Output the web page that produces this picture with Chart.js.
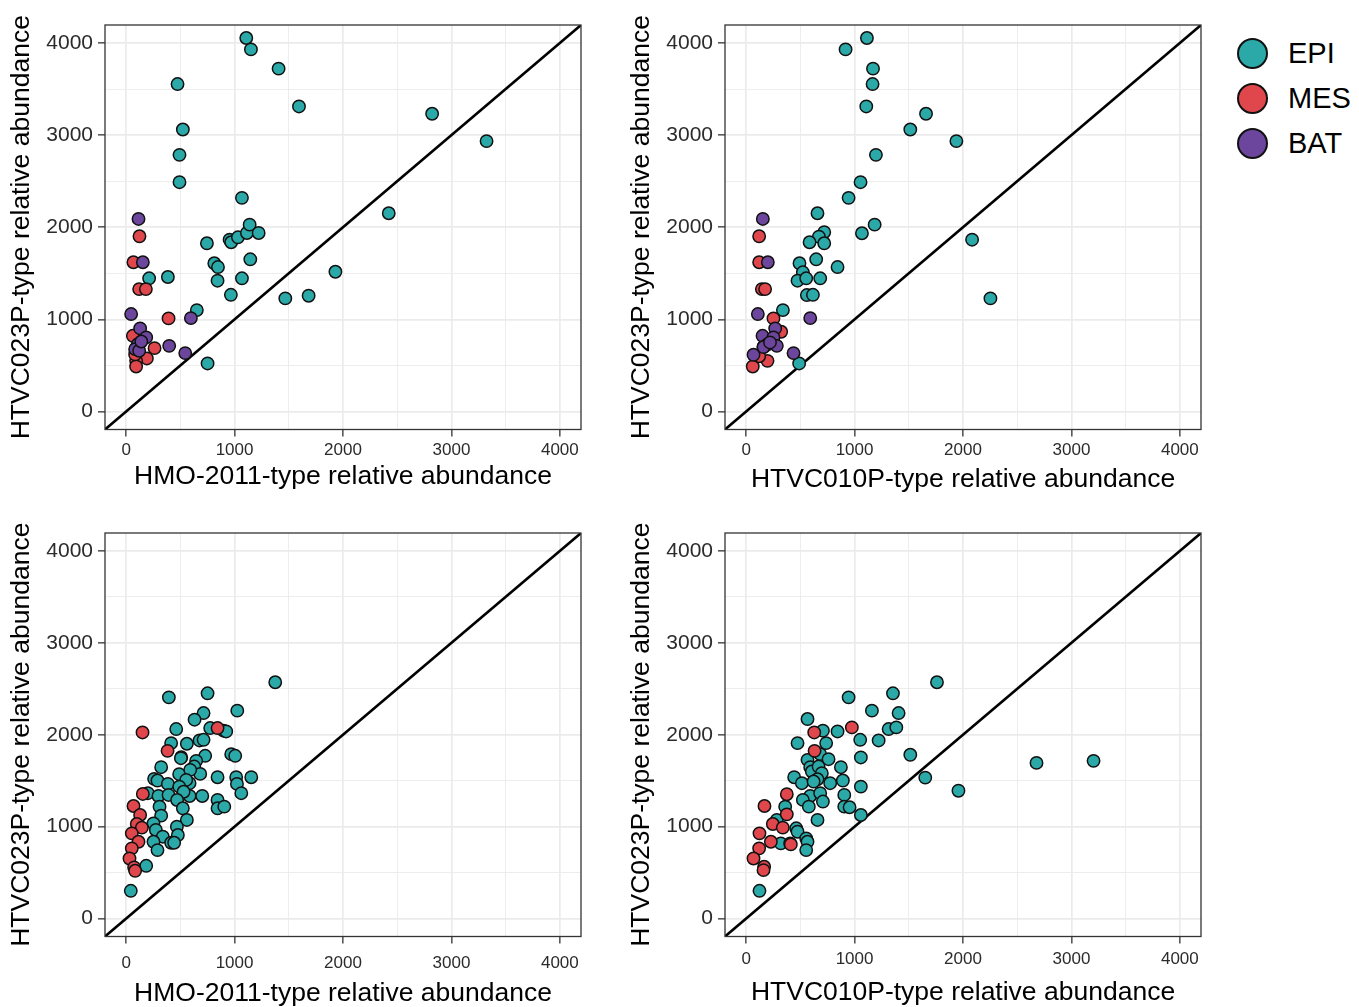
<!DOCTYPE html>
<html>
<head>
<meta charset="utf-8">
<script src="https://cdn.jsdelivr.net/npm/chart.js@4.4.1/dist/chart.umd.min.js"></script>
<style>
  body { margin: 0; background: #fff; width: 1359px; height: 1007px; overflow: hidden; position: relative; font-family: "Liberation Sans", Arial, sans-serif; }
  .panel { position: absolute; }
  .legend { position: absolute; left: 1237px; top: 30.5px; }
  .legend div { display: flex; align-items: center; height: 45px; font-size: 29px; color: #000; }
  .legend span.dot { width: 27px; height: 27px; border: 2px solid #111; border-radius: 50%; margin-right: 20px; display: inline-block; }
</style>
</head>
<body>
<div class="panel" style="left:0px;top:0px;width:600px;height:510px"><canvas id="c1"></canvas></div>
<div class="panel" style="left:620px;top:0px;width:600px;height:510px"><canvas id="c2"></canvas></div>
<div class="panel" style="left:0px;top:507.5px;width:600px;height:505px"><canvas id="c3"></canvas></div>
<div class="panel" style="left:620px;top:507.5px;width:600px;height:505px"><canvas id="c4"></canvas></div>
<div class="legend" id="legend"></div>

<script>
// groups and colours
const groups = ['EPI', 'MES', 'BAT'];
const groupColors = ['#2BA8A8', '#E0474D', '#6C469C'];

// axis ticks (labels only at the thousands)
const tickValues = [0, 500, 1000, 1500, 2000, 2500, 3000, 3500, 4000];
const axisMin = -195;
const axisMax = 4195;

// titles
const yTitle = 'HTVC023P-type relative abundance';
const xTitleHMO = 'HMO-2011-type relative abundance';
const xTitleHTVC = 'HTVC010P-type relative abundance';

// top-left: HMO-2011 vs HTVC023P
const p1Epi = [[1108,4054],[1151,3930],[1406,3721],[474,3554],[1594,3311],[523,3061],[492,2786],[492,2489],[1068,2319],[2822,3232],[3324,2935],[2422,2152],[1930,1517],[212,1446],[385,1460],[652,1101],[751,522],[745,1826],[954,1865],[969,1837],[1031,1891],[1114,1938],[1139,2028],[1222,1938],[813,1609],[847,1568],[843,1420],[1068,1446],[1145,1652],[966,1267],[1468,1228],[1683,1257]];
const p1Mes = [[123,1902],[67,1620],[120,1329],[182,1329],[391,1011],[62,822],[262,688],[191,576],[92,550],[92,489],[83,620],[100,700]];
const p1Bat = [[114,2090],[154,1620],[46,1058],[597,1014],[129,902],[185,804],[108,732],[397,713],[545,634],[83,677],[120,660],[140,760]];

// top-right: HTVC010P vs HTVC023P
const p2Epi = [[1114,4054],[917,3930],[1170,3721],[1166,3554],[1108,3311],[1659,3232],[1514,3061],[1939,2935],[1197,2786],[1055,2489],[945,2319],[658,2152],[2084,1865],[2253,1228],[339,1101],[489,522],[720,1946],[671,1898],[585,1837],[720,1826],[1068,1935],[1185,2028],[646,1652],[843,1568],[492,1609],[523,1511],[474,1420],[554,1446],[683,1446],[560,1264],[616,1267]];
const p2Mes = [[120,1902],[120,1620],[145,1329],[175,1329],[252,1011],[323,866],[197,550],[61,489],[160,700],[230,760],[120,600]];
const p2Bat = [[154,2090],[200,1620],[108,1058],[591,1014],[268,902],[151,822],[252,804],[191,724],[283,713],[68,616],[437,634],[160,700],[220,750]];

// bottom-left: HMO-2011 vs HTVC023P
const p3Epi = [[1375,2571],[394,2407],[751,2451],[1025,2262],[714,2236],[631,2164],[775,2073],[462,2062],[898,2044],[923,2036],[415,1909],[560,1902],[677,1938],[714,1945],[508,1756],[505,1745],[729,1771],[969,1789],[1006,1771],[646,1716],[628,1654],[323,1647],[489,1571],[683,1574],[591,1618],[258,1520],[289,1502],[385,1465],[585,1473],[554,1509],[843,1538],[1015,1538],[1154,1538],[1022,1465],[200,1364],[298,1334],[391,1345],[585,1334],[702,1334],[1062,1364],[490,1436],[530,1380],[470,1290],[843,1291],[843,1200],[905,1218],[308,1218],[523,1200],[323,1120],[560,1073],[252,1036],[468,1000],[274,964],[338,891],[477,909],[252,836],[289,745],[415,825],[443,825],[185,574],[43,302]];
const p3Mes = [[151,2025],[843,2073],[382,1825],[154,1356],[68,1225],[129,1127],[98,1029],[145,989],[52,927],[114,836],[52,764],[31,654],[74,556],[83,520]];

// bottom-right: HTVC010P vs HTVC023P
const p4Epi = [[1760,2571],[945,2407],[1354,2451],[1160,2262],[1406,2236],[566,2171],[1314,2062],[1385,2080],[708,2044],[843,2036],[1052,1945],[1222,1938],[474,1909],[738,1909],[1514,1782],[1058,1753],[683,1789],[566,1727],[760,1734],[874,1647],[591,1647],[628,1589],[606,1600],[668,1654],[698,1582],[443,1538],[514,1473],[658,1516],[622,1491],[775,1473],[892,1502],[1652,1534],[1058,1436],[591,1334],[683,1364],[708,1273],[905,1345],[905,1218],[954,1211],[1058,1127],[523,1291],[578,1218],[658,1073],[360,1218],[283,1073],[462,982],[474,945],[554,873],[566,836],[554,745],[320,818],[406,818],[123,302],[2678,1694],[3204,1716],[1958,1391]];
const p4Mes = [[628,2025],[975,2080],[631,1825],[375,1353],[169,1225],[375,1134],[246,1029],[338,989],[123,927],[228,836],[412,807],[120,764],[68,654],[166,564],[160,527]];

// box round the plot area, like ggplot's panel border
const frame = {
  id: 'frame',
  afterDatasetsDraw(chart) {
    const { ctx, chartArea: a } = chart;
    ctx.save();
    ctx.strokeStyle = '#333';
    ctx.lineWidth = 1.3;
    ctx.strokeRect(a.left, a.top, a.right - a.left, a.bottom - a.top);
    ctx.restore();
  }
};

function isMajor(ctx) {
  return ctx.tick && ctx.tick.value % 1000 === 0;
}

function makeAxis(title, opts) {
  return {
    type: 'linear',
    min: axisMin,
    max: axisMax,
    afterBuildTicks: s => { s.ticks = tickValues.map(v => ({ value: v })); },
    afterFit: opts.fit,
    border: { display: false },
    grid: {
      color: '#EBEBEB',
      lineWidth: c => isMajor(c) ? 1.7 : 0.9,
      tickColor: c => isMajor(c) ? '#333' : 'rgba(0,0,0,0)',
      tickWidth: 1.3,
      tickLength: 7
    },
    ticks: {
      autoSkip: false,
      maxRotation: 0,
      color: '#2b2b2b',
      padding: opts.tickPad,
      font: { family: 'Liberation Sans', size: opts.tickSize },
      callback: v => v % 1000 === 0 ? v : ''
    },
    title: {
      display: true,
      text: title,
      color: '#000',
      font: { family: 'Liberation Sans', size: 26.5 },
      padding: opts.titlePad
    }
  };
}

function toPoints(arr) {
  return arr.map(p => ({ x: p[0], y: p[1] }));
}

function makePanel(id, xTitle, series, o) {
  const datasets = series.map(s => ({
    label: groups[s.group],
    data: toPoints(s.data),
    backgroundColor: groupColors[s.group],
    borderColor: '#111',
    borderWidth: 1.5,
    pointRadius: 6.2,
    order: 3 - s.group
  }));
  // the y = x reference line
  datasets.push({
    label: 'y = x',
    data: [{ x: axisMin, y: axisMin }, { x: axisMax, y: axisMax }],
    showLine: true,
    borderColor: '#000',
    borderWidth: 2.6,
    pointRadius: 0,
    order: 5
  });

  new Chart(document.getElementById(id).getContext('2d'), {
    type: 'scatter',
    data: { datasets },
    options: {
      responsive: true,
      maintainAspectRatio: false,
      animation: false,
      layout: { autoPadding: false, padding: { top: 25, right: 19, left: 0, bottom: 0 } },
      plugins: { legend: { display: false }, tooltip: { enabled: false } },
      scales: {
        x: makeAxis(xTitle, { fit: s => { s.height = o.xHeight; }, tickPad: o.xTickPad, tickSize: 17, titlePad: { top: 0, bottom: o.xTitlePad } }),
        y: makeAxis(yTitle, { fit: s => { s.width = 105; }, tickPad: 5, tickSize: 21, titlePad: { top: 6, bottom: 0 } })
      }
    },
    plugins: [frame]
  });
}

makePanel('c1', xTitleHMO, [{ group: 0, data: p1Epi }, { group: 1, data: p1Mes }, { group: 2, data: p1Bat }],
  { xHeight: 80.5, xTickPad: 4, xTitlePad: 17 });
makePanel('c2', xTitleHTVC, [{ group: 0, data: p2Epi }, { group: 1, data: p2Mes }, { group: 2, data: p2Bat }],
  { xHeight: 80.5, xTickPad: 4, xTitlePad: 14 });
makePanel('c3', xTitleHMO, [{ group: 0, data: p3Epi }, { group: 1, data: p3Mes }],
  { xHeight: 76.5, xTickPad: 9.5, xTitlePad: 3.6 });
makePanel('c4', xTitleHTVC, [{ group: 0, data: p4Epi }, { group: 1, data: p4Mes }],
  { xHeight: 76.5, xTickPad: 6, xTitlePad: 4.6 });

// legend
const legend = document.getElementById('legend');
groups.forEach((g, i) => {
  const row = document.createElement('div');
  const dot = document.createElement('span');
  dot.className = 'dot';
  dot.style.background = groupColors[i];
  row.appendChild(dot);
  row.appendChild(document.createTextNode(g));
  legend.appendChild(row);
});
</script>
</body>
</html>
